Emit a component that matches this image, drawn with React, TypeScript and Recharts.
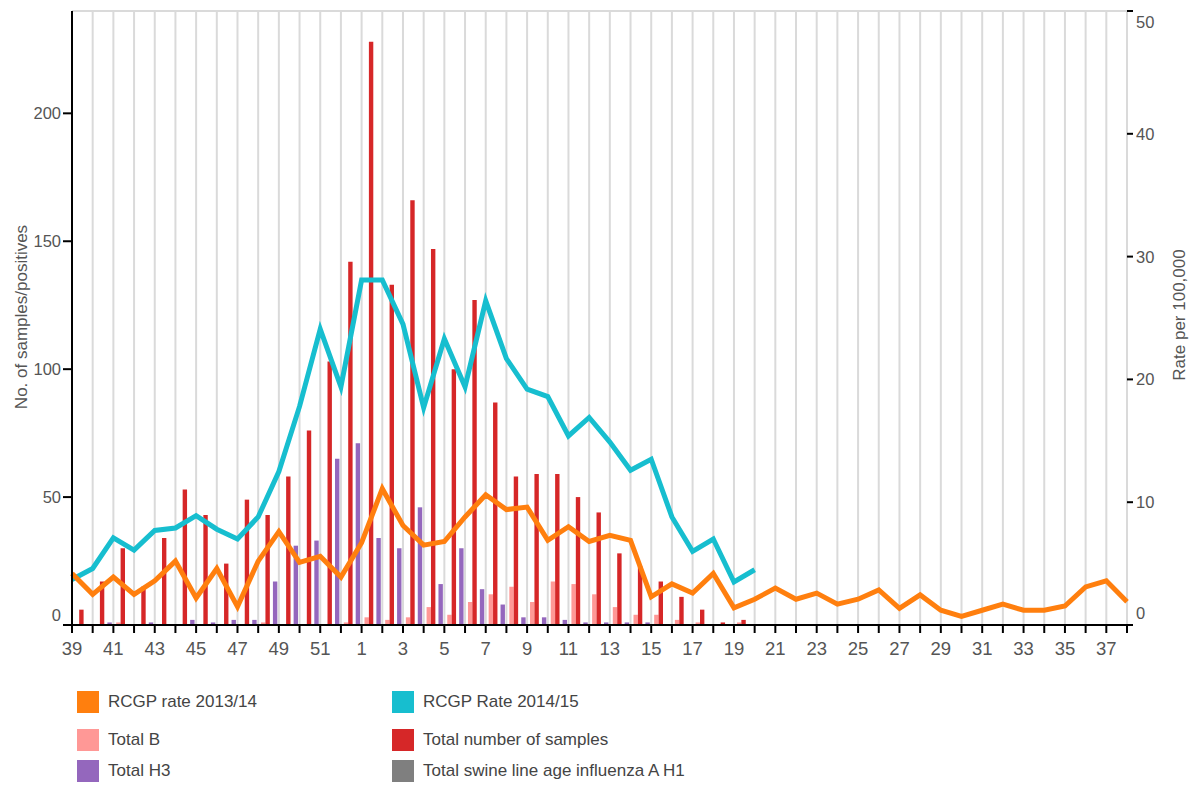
import React from "react";
import { ComposedChart, Bar, Line, XAxis, YAxis, CartesianGrid, ReferenceLine } from "recharts";

// weeks of the 2014/15 season (week 39 to week 38)
const weeks = [
  "39", "40", "41", "42", "43", "44", "45", "46", "47", "48", "49", "50", "51", "52",
  "1", "2", "3", "4", "5", "6", "7", "8", "9", "10", "11", "12", "13", "14", "15", "16", "17", "18", "19",
  "20", "21", "22", "23", "24", "25", "26", "27", "28", "29", "30", "31", "32", "33", "34", "35", "36", "37", "38",
];

// counts (left axis), reported up to week 19
const totalSamples = [6, 17, 30, 15, 34, 53, 43, 24, 49, 43, 58, 76, 103, 142,
  228, 133, 166, 147, 100, 127, 87, 58, 59, 59, 50, 44, 28, 23, 17, 11, 6, 1, 2];
const totalB = [0, 0, 1, 0, 0, 0, 0, 0, 0, 1, 0, 0, 0, 1,
  3, 2, 3, 7, 4, 9, 12, 15, 9, 17, 16, 12, 7, 4, 4, 2, 1, 0, 1];
const totalH3 = [0, 0, 1, 0, 1, 0, 2, 1, 2, 2, 17, 31, 33, 65,
  71, 34, 30, 46, 16, 30, 14, 8, 3, 3, 2, 1, 1, 1, 1, 0, 0, 0, 0];
const totalSwine = [0, 0, 0, 0, 0, 0, 0, 0, 0, 0, 0, 0, 0, 0,
  0, 0, 0, 0, 0, 0, 0, 0, 0, 0, 0, 0, 0, 0, 0, 0, 0, 0, 0];

// rates per 100,000 (right axis)
const rcgp1314 = [4.2, 2.5, 3.9, 2.5, 3.6, 5.2, 2.2, 4.6, 1.5, 5.2, 7.6, 5.1, 5.6, 3.9,
  6.7, 11.1, 8.1, 6.5, 6.8, 8.8, 10.6, 9.4, 9.6, 6.9, 8.0, 6.8, 7.3, 6.9, 2.3, 3.35, 2.6, 4.2, 1.4,
  2.1, 3.0, 2.1, 2.6, 1.7, 2.1, 2.85, 1.35, 2.45, 1.2, 0.7, 1.2, 1.7, 1.2, 1.2, 1.55, 3.1, 3.6, 1.9];
const rcgp1415 = [3.7, 4.6, 7.1, 6.1, 7.7, 7.9, 8.9, 7.8, 7.0, 8.8, 12.5, 17.8, 24.1, 19.4,
  28.1, 28.1, 24.5, 17.7, 23.3, 19.4, 26.4, 21.7, 19.2, 18.6, 15.4, 16.9, 14.9, 12.6, 13.5, 8.8, 6.0, 7.0, 3.5,
  4.5];

const leftTicks = [0, 50, 100, 150, 200];
const rightTicks = [0, 10, 20, 30, 40, 50];

const ORANGE = "#ff7f0e";
const TEAL = "#17becf";
const PINK = "#ff9896";
const RED = "#d62728";
const PURPLE = "#9467bd";
const GREY = "#7f7f7f";
const TEXT = "#555555";

const legendItems = [
  { name: "RCGP rate 2013/14", color: ORANGE },
  { name: "RCGP Rate 2014/15", color: TEAL },
  { name: "Total B", color: PINK },
  { name: "Total number of samples", color: RED },
  { name: "Total H3", color: PURPLE },
  { name: "Total swine line age influenza A H1", color: GREY },
];

const data = weeks.map((week, i) => ({
  week,
  total: totalSamples[i] ?? null,
  b: totalB[i] ?? null,
  h3: totalH3[i] ?? null,
  swine: totalSwine[i] ?? null,
  r1314: rcgp1314[i] ?? null,
  r1415: rcgp1415[i] ?? null,
}));

// only every other week gets a label, every week gets a tick mark
const WeekTick = (props: any) => {
  const { x, y, payload, index } = props;
  if (index % 2 !== 0) return <g />;
  return (
    <text x={x} y={y + 20} textAnchor="middle" fontSize={18.5} fill={TEXT}>
      {payload.value}
    </text>
  );
};

const LeftTick = (props: any) => {
  const { x, y, payload } = props;
  const shift = payload.value === 0 ? -10 : 0;
  return (
    <text x={x} y={y + 6 + shift} textAnchor="end" fontSize={16.5} fill={TEXT}>
      {payload.value}
    </text>
  );
};

const RightTick = (props: any) => {
  const { x, y, payload } = props;
  const shift = payload.value === 0 ? -12 : payload.value === 50 ? 11 : 0;
  return (
    <text x={x} y={y + 6 + shift} textAnchor="start" fontSize={16.5} fill={TEXT}>
      {payload.value}
    </text>
  );
};

const AxisTitle = ({ cx, cy, text }: { cx: number; cy: number; text: string }) => (
  <text
    x={cx}
    y={cy}
    transform={`rotate(-90 ${cx} ${cy})`}
    textAnchor="middle"
    dominantBaseline="central"
    fontSize={17}
    fill={TEXT}
  >
    {text}
  </text>
);

export default function App() {
  return (
    <div style={{ position: "absolute", left: 0, top: 0, width: 1197, height: 787, background: "#fff", fontFamily: "'Liberation Sans', Arial, sans-serif" }}>
      <ComposedChart
        width={1197}
        height={670}
        data={data}
        margin={{ top: 11, right: 0, bottom: 0, left: 0 }}
        barSize={4.4}
        barGap={0}
      >
        <CartesianGrid xAxisId="pt" yAxisId="left" horizontal={false} stroke="#dadada" strokeWidth={2} />
        <ReferenceLine xAxisId="pt" yAxisId="left" y={240} stroke="#dadada" strokeWidth={2} />
        <XAxis xAxisId="band" dataKey="week" scale="band" hide height={0} padding={{ left: -8, right: -13 }} />
        <XAxis
          xAxisId="pt"
          dataKey="week"
          scale="point"
          interval={0}
          height={45}
          axisLine={{ stroke: "#000", strokeWidth: 2 }}
          tickLine={{ stroke: "#000", strokeWidth: 2 }}
          tickSize={8}
          tickMargin={2}
          tick={<WeekTick />}
        />
        <YAxis
          yAxisId="left"
          width={72}
          domain={[0, 240]}
          ticks={leftTicks}
          interval={0}
          axisLine={{ stroke: "#000", strokeWidth: 2 }}
          tickLine={{ stroke: "#000", strokeWidth: 2 }}
          tickSize={9}
          tickMargin={2}
          tick={<LeftTick />}
          label={<AxisTitle cx={21} cy={317} text="No. of samples/positives" />}
        />
        <YAxis
          yAxisId="right"
          orientation="right"
          width={70}
          domain={[0, 50]}
          ticks={rightTicks}
          interval={0}
          axisLine={false}
          tickLine={{ stroke: "#000", strokeWidth: 2 }}
          tickSize={6}
          tickMargin={3}
          tick={<RightTick />}
          label={<AxisTitle cx={1179} cy={315} text="Rate per 100,000" />}
        />
        <Bar xAxisId="band" yAxisId="left" dataKey="h3" fill={PURPLE} isAnimationActive={false} />
        <Bar xAxisId="band" yAxisId="left" dataKey="swine" fill={GREY} isAnimationActive={false} />
        <Bar xAxisId="band" yAxisId="left" dataKey="b" fill={PINK} isAnimationActive={false} />
        <Bar xAxisId="band" yAxisId="left" dataKey="total" fill={RED} isAnimationActive={false} />
        <Line xAxisId="pt" yAxisId="right" dataKey="r1415" stroke={TEAL} strokeWidth={5} dot={false} activeDot={false} isAnimationActive={false} />
        <Line xAxisId="pt" yAxisId="right" dataKey="r1314" stroke={ORANGE} strokeWidth={5} dot={false} activeDot={false} isAnimationActive={false} />
      </ComposedChart>

      {legendItems.map((item, i) => {
        const col = i % 2;
        const row = Math.floor(i / 2);
        const left = col === 0 ? 77 : 392;
        const centers = [702, 739.5, 770.5];
        return (
          <div
            key={item.name}
            style={{ position: "absolute", left, top: centers[row] - 11, height: 22, display: "flex", alignItems: "center" }}
          >
            <span style={{ width: 22, height: 22, background: item.color, display: "inline-block", marginRight: 9 }} />
            <span style={{ fontSize: 17, color: "#444", whiteSpace: "nowrap" }}>{item.name}</span>
          </div>
        );
      })}
    </div>
  );
}
